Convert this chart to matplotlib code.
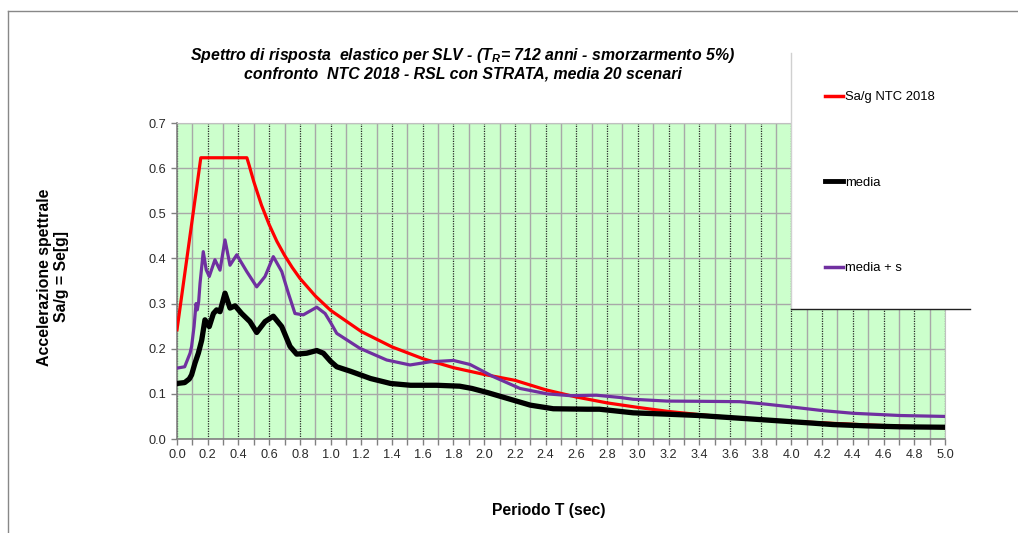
import matplotlib
matplotlib.use("Agg")
import matplotlib.pyplot as plt
from matplotlib.patches import Rectangle
from matplotlib.lines import Line2D
from matplotlib.ticker import MultipleLocator, FormatStrFormatter

plt.rcParams["font.family"] = ["Liberation Sans", "DejaVu Sans"]
plt.rcParams["mathtext.fontset"] = "custom"
plt.rcParams["mathtext.it"] = "Liberation Sans:italic:bold"
plt.rcParams["mathtext.rm"] = "Liberation Sans:italic:bold"

# NTC 2018 elastic spectrum (SLV)
t_ntc = [0.0, 0.155, 0.455, 0.47, 0.5, 0.55, 0.6, 0.65, 0.7, 0.75, 0.8, 0.9,
         1.0, 1.2, 1.4, 1.6, 1.8, 2.0, 2.2, 2.4, 2.6, 2.8, 3.0, 3.2, 3.4,
         3.6, 3.8, 4.0, 4.25, 4.5, 4.75, 5.0]
sa_ntc = [0.242, 0.623, 0.623, 0.606, 0.570, 0.518, 0.475, 0.438, 0.407, 0.380,
          0.356, 0.317, 0.285, 0.238, 0.204, 0.178, 0.158, 0.143, 0.130, 0.109,
          0.093, 0.080, 0.070, 0.061, 0.054, 0.048, 0.043, 0.039, 0.035, 0.031,
          0.028, 0.025]

# STRATA site response, mean of 20 scenarios
t_media = [0.0, 0.05, 0.08, 0.095, 0.117, 0.139, 0.161, 0.182, 0.21, 0.237,
           0.258, 0.28, 0.3125, 0.345, 0.378, 0.421, 0.475, 0.519, 0.573, 0.627,
           0.682, 0.736, 0.779, 0.844, 0.91, 0.953, 1.0, 1.04, 1.13, 1.26, 1.39,
           1.52, 1.69, 1.84, 1.92, 2.02, 2.15, 2.30, 2.45, 2.67, 2.75, 2.97,
           3.19, 3.40, 3.62, 3.84, 4.06, 4.27, 4.49, 4.71, 5.0]
sa_media = [0.123, 0.125, 0.133, 0.142, 0.168, 0.190, 0.219, 0.264, 0.249, 0.278,
            0.286, 0.282, 0.323, 0.290, 0.295, 0.278, 0.260, 0.236, 0.260, 0.272,
            0.249, 0.205, 0.188, 0.190, 0.196, 0.190, 0.172, 0.160, 0.150, 0.134,
            0.123, 0.119, 0.119, 0.117, 0.112, 0.103, 0.090, 0.075, 0.067, 0.066,
            0.066, 0.058, 0.055, 0.052, 0.047, 0.042, 0.037, 0.032, 0.029, 0.027,
            0.026]

# mean + one standard deviation
t_media_s = [0.0, 0.05, 0.085, 0.095, 0.111, 0.124, 0.132, 0.141, 0.15, 0.171,
             0.19, 0.21, 0.247, 0.28, 0.3125, 0.345, 0.389, 0.454, 0.519, 0.573,
             0.627, 0.682, 0.725, 0.768, 0.822, 0.91, 0.964, 1.0, 1.04, 1.19,
             1.365, 1.517, 1.647, 1.80, 1.908, 2.06, 2.233, 2.41, 2.56, 2.73,
             2.884, 2.97, 3.19, 3.405, 3.665, 3.84, 4.0, 4.2, 4.4, 4.71, 5.0]
sa_media_s = [0.157, 0.160, 0.190, 0.205, 0.249, 0.300, 0.286, 0.304, 0.345, 0.415,
              0.375, 0.360, 0.397, 0.374, 0.441, 0.385, 0.408, 0.371, 0.337, 0.360,
              0.404, 0.371, 0.323, 0.278, 0.275, 0.292, 0.278, 0.258, 0.234, 0.201,
              0.175, 0.164, 0.171, 0.174, 0.165, 0.138, 0.112, 0.100, 0.096, 0.097,
              0.092, 0.088, 0.084, 0.0835, 0.0827, 0.077, 0.071, 0.063, 0.057, 0.052,
              0.050]

W, H = 1018, 533
fig = plt.figure(figsize=(W / 100, H / 100), dpi=100)
fig.patch.set_facecolor("white")

ax = fig.add_axes([177 / W, 1 - 439 / H, (945 - 177) / W, (439 - 123) / H])
ax.set_facecolor("#CCFFCC")

ax.plot(t_ntc, sa_ntc, color="#FF0000", lw=2.3, solid_joinstyle="round",
        label="Sa/g NTC 2018", zorder=3)
ax.plot(t_media, sa_media, color="black", lw=3.8, solid_joinstyle="round",
        label="media", zorder=4)
ax.plot(t_media_s, sa_media_s, color="#7030A0", lw=2.3, solid_joinstyle="round",
        label="media + s", zorder=5)

ax.set_xlim(0, 5.0)
ax.set_ylim(0, 0.7)
ax.xaxis.set_major_locator(MultipleLocator(0.2))
ax.xaxis.set_minor_locator(MultipleLocator(0.1))
ax.yaxis.set_major_locator(MultipleLocator(0.1))
ax.yaxis.set_minor_locator(MultipleLocator(0.2))
ax.xaxis.set_major_formatter(FormatStrFormatter("%.1f"))
ax.yaxis.set_major_formatter(FormatStrFormatter("%.1f"))

# grey grid every 0.1, darker dotted lines every 0.2
ax.grid(which="minor", axis="x", color="#A8A8A8", lw=1.0, zorder=1)
ax.grid(which="major", axis="x", color="#2A2A2A", lw=0.9, ls=(0, (1, 1)), zorder=1)
ax.grid(which="major", axis="y", color="#A8A8A8", lw=1.0, zorder=1)
ax.grid(which="minor", axis="y", color="#2A2A2A", lw=0.9, ls=(0, (1, 1)), zorder=1)
ax.set_axisbelow(True)

ax.tick_params(which="both", direction="out", length=4, width=1, color="#808080",
               labelsize=9.2, labelcolor="#2A2A2A")
ax.tick_params(axis="y", which="minor", length=0)
for side in ["left", "bottom"]:
    ax.spines[side].set_color("#808080")
    ax.spines[side].set_linewidth(1.2)
for side in ["top", "right"]:
    ax.spines[side].set_color("#C0C0C0")

fig.text(463 / W, 1 - 64 / H,
         "Spettro di risposta  elastico per SLV - ($T_R$= 712 anni - smorzarmento 5%)\n"
         "confronto  NTC 2018 - RSL con STRATA, media 20 scenari",
         ha="center", va="center", fontsize=11.4, fontweight="bold",
         fontstyle="italic", linespacing=1.1)
fig.text(53 / W, 1 - 277 / H, "Accelerazione spettrale\nSa/g = Se[g]",
         rotation=90, ha="center", va="center", fontsize=11.4,
         fontweight="bold", linespacing=1.2)
fig.text(549 / W, 1 - 510 / H, "Periodo T (sec)", ha="center", va="center",
         fontsize=11.3, fontweight="bold")

# white legend panel over the upper right of the plot
x0, x1, y0, y1 = 791 / W, 970 / W, 1 - 309 / H, 1 - 53 / H
fig.patches.append(Rectangle((x0, y0), x1 - x0, y1 - y0, transform=fig.transFigure,
                             facecolor="white", edgecolor="none", zorder=6))
fig.lines.append(Line2D([x0, x0], [y0, y1], transform=fig.transFigure,
                        color="#D0D0D0", lw=1, zorder=7))
fig.lines.append(Line2D([x0, x1], [y0, y0], transform=fig.transFigure,
                        color="#202020", lw=1, zorder=7))

# outer chart frame
fig.lines.append(Line2D([8 / W, 8 / W], [0, 1 - 11 / H], transform=fig.transFigure,
                        color="#888888", lw=1))
fig.lines.append(Line2D([8 / W, 1], [1 - 11 / H, 1 - 11 / H], transform=fig.transFigure,
                        color="#888888", lw=1))

handles, labels = ax.get_legend_handles_labels()
leg = fig.legend(handles, labels, loc="upper left",
                 bbox_to_anchor=(825 / W, 1 - 91 / H), frameon=False,
                 fontsize=9.4, handlelength=1.4, handletextpad=0.15,
                 labelspacing=5.63, borderpad=0, borderaxespad=0)
leg.set_zorder(8)
for line in leg.get_lines():
    line.set_linewidth(2.5 if line.get_color() != "black" else 3.5)

fig.savefig("out.png", dpi=100)
